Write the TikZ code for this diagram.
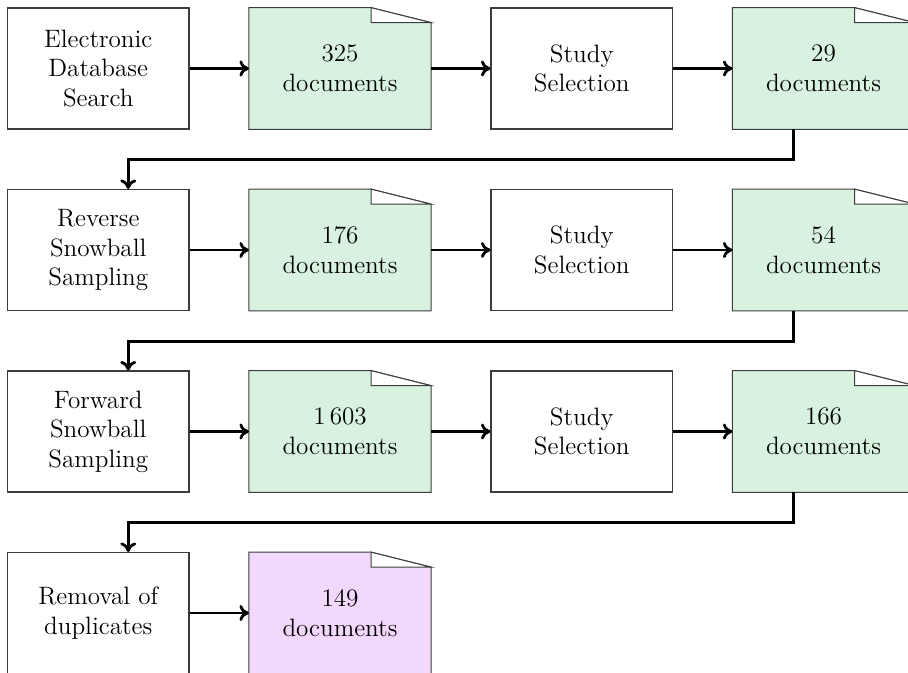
\documentclass[tikz,border=0pt]{standalone}
\usepackage{tikz}
\usetikzlibrary{shapes,calc,backgrounds,arrows.meta}

\definecolor{docgreen}{RGB}{217,242,224}
\definecolor{docpurple}{RGB}{242,216,252}
\definecolor{boxgray}{RGB}{60,60,60}

% page with a folded corner, drawn behind a docN node
\newcommand{\docpage}[2]{%
  \filldraw[boxline,fill=#2] (#1.north west) -- ([xshift=-1.2cm]#1.north east)
    -- ([yshift=-0.3cm]#1.north east) -- (#1.south east) -- (#1.south west) -- cycle;
  \filldraw[boxline,fill=white] ([xshift=-1.2cm]#1.north east)
    -- ([xshift=-1.2cm,yshift=-0.3cm]#1.north east) -- ([yshift=-0.3cm]#1.north east) -- cycle;}

\begin{document}
\begin{tikzpicture}
  [stepN/.style={rectangle,draw=boxgray,line width=0.6pt,minimum width=3.63cm,
                 minimum height=2.42cm,inner sep=0pt,align=center},
   docN/.style={rectangle,minimum width=3.63cm,minimum height=2.42cm,
                inner sep=0pt,align=center},
   boxline/.style={draw=boxgray,line width=0.6pt},
   flow/.style={->,line width=1.6pt},
   >={To[length=1.9mm,width=3.2mm]},
   font=\fontsize{14.3}{16.8}\selectfont]

  \useasboundingbox (0,0) rectangle (18.16,-13.46);

  % first round
  \node at (1.965,-1.37)  [stepN] (search) {Electronic\\Database\\Search};
  \node at (6.8,-1.37)    [docN]  (docA)   {325\\documents};
  \node at (11.635,-1.37) [stepN] (selA)   {Study\\Selection};
  \node at (16.47,-1.37)  [docN]  (resA)   {29\\documents};

  % reverse snowballing
  \node at (1.965,-5.0)   [stepN] (reverse) {Reverse\\Snowball\\Sampling};
  \node at (6.8,-5.0)     [docN]  (docB)    {176\\documents};
  \node at (11.635,-5.0)  [stepN] (selB)    {Study\\Selection};
  \node at (16.47,-5.0)   [docN]  (resB)    {54\\documents};

  % forward snowballing
  \node at (1.965,-8.63)  [stepN] (forward) {Forward\\Snowball\\Sampling};
  \node at (6.8,-8.63)    [docN]  (docC)    {1\,603\\documents};
  \node at (11.635,-8.63) [stepN] (selC)    {Study\\Selection};
  \node at (16.47,-8.63)  [docN]  (resC)    {166\\documents};

  % duplicates
  \node at (1.965,-12.26) [stepN] (dedup) {Removal of\\duplicates};
  \node at (6.8,-12.26)   [docN]  (final) {149\\documents};

  \begin{pgfonlayer}{background}
    \docpage{docA}{docgreen}
    \docpage{resA}{docgreen}
    \docpage{docB}{docgreen}
    \docpage{resB}{docgreen}
    \docpage{docC}{docgreen}
    \docpage{resC}{docgreen}
    \docpage{final}{docpurple}
  \end{pgfonlayer}

  \draw [flow] (search) -- (docA);
  \draw [flow] (docA) -- (selA);
  \draw [flow] (selA) -- (resA);
  \draw [flow] ([xshift=-0.6cm]resA.south) -- ++(0,-0.61) -| ([xshift=0.6cm]reverse.north);

  \draw [flow] (reverse) -- (docB);
  \draw [flow] (docB) -- (selB);
  \draw [flow] (selB) -- (resB);
  \draw [flow] ([xshift=-0.6cm]resB.south) -- ++(0,-0.61) -| ([xshift=0.6cm]forward.north);

  \draw [flow] (forward) -- (docC);
  \draw [flow] (docC) -- (selC);
  \draw [flow] (selC) -- (resC);
  \draw [flow] ([xshift=-0.6cm]resC.south) -- ++(0,-0.61) -| ([xshift=0.6cm]dedup.north);

  \draw [flow] (dedup) -- (final);
\end{tikzpicture}
\end{document}
